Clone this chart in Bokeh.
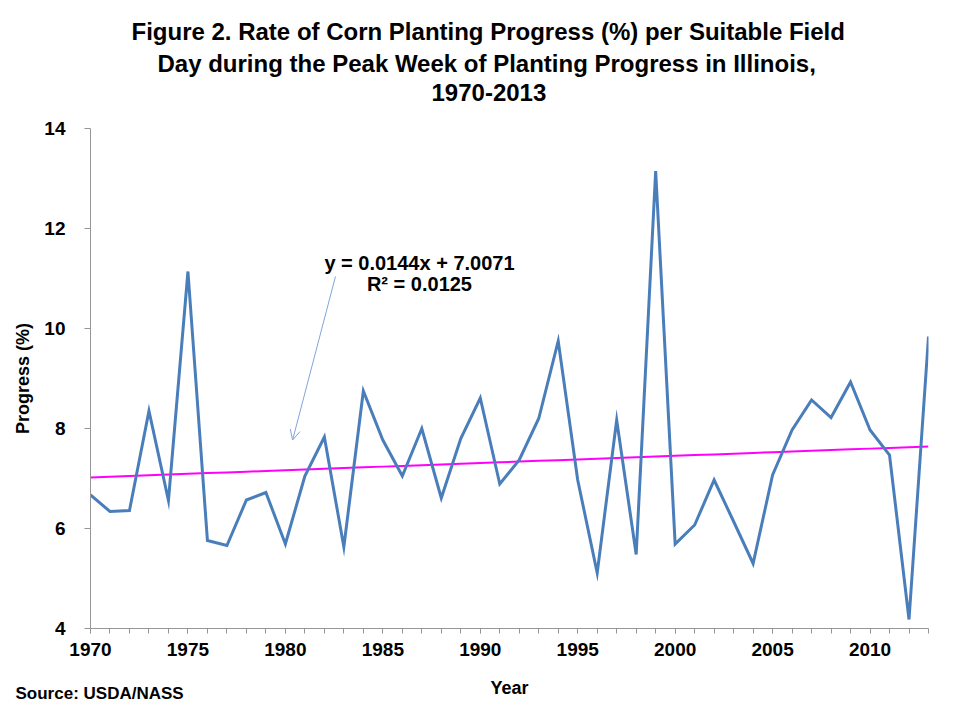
from bokeh.plotting import figure
from bokeh.models import (Range1d, FixedTicker, Label, Arrow, OpenHead, Title,
                          LinearAxis)
from bokeh.embed import file_html
from bokeh.resources import INLINE

# ---- data ----
years = list(range(1970, 2014))
progress = [6.67, 6.34, 6.36, 8.35, 6.56, 11.14, 5.76, 5.66, 6.57, 6.72,
            5.69, 7.05, 7.83, 5.63, 8.75, 7.77, 7.05, 8.00, 6.61, 7.80,
            8.61, 6.89, 7.37, 8.20, 9.75, 6.97, 5.11, 8.17, 5.48, 13.15,
            5.69, 6.07, 6.97, 6.14, 5.30, 7.07, 7.97, 8.57, 8.22, 8.93,
            7.97, 7.47, 4.18, 9.84]
trend_slope = 0.0144
trend_intercept = 7.0071
trend = [trend_intercept + trend_slope * (i + 1) for i in range(len(years))]

x_tick_values = [1970, 1975, 1980, 1985, 1990, 1995, 2000, 2005, 2010]
y_tick_values = [4, 6, 8, 10, 12, 14]

title_lines = ["Figure 2. Rate of Corn Planting Progress (%)  per Suitable Field",
               "Day during the Peak Week of Planting Progress in Illinois,",
               "1970-2013"]
eq_lines = ["y = 0.0144x + 7.0071", "R\u00b2 = 0.0125"]
x_label = "Year"
y_label = "Progress (%)"
source_text = "Source: USDA/NASS"

FONT = "Liberation Sans"

p = figure(width=950, height=700,
           x_range=Range1d(1970, 2013), y_range=Range1d(4, 14),
           output_backend="svg", toolbar_location=None,
           min_border_left=90, min_border_right=22,
           min_border_top=128, min_border_bottom=71)
p.outline_line_color = None
p.xgrid.visible = False
p.ygrid.visible = False
p.background_fill_color = "white"
p.border_fill_color = "white"

p.line(years, trend, line_color="#FF00FF", line_width=2)
p.line(years, progress, line_color="#4A7EBB", line_width=3, line_join="miter")

axis_gray = "#969696"
# x axis
xa = p.xaxis[0]
xa.ticker = FixedTicker(ticks=x_tick_values, minor_ticks=years)
xa.axis_line_color = axis_gray
xa.major_tick_line_color = axis_gray
xa.minor_tick_line_color = axis_gray
xa.major_tick_in = 0
xa.major_tick_out = 5
xa.minor_tick_in = 0
xa.minor_tick_out = 5
xa.major_label_standoff = 9
xa.major_label_text_font = FONT
xa.major_label_text_font_style = "bold"
xa.major_label_text_font_size = "19px"
xa.major_label_text_color = "black"
xa.axis_label = x_label
xa.axis_label_text_font = FONT
xa.axis_label_text_font_style = "bold"
xa.axis_label_text_font_size = "18px"
xa.axis_label_text_color = "black"
xa.axis_label_standoff = 19

# y axis
ya = p.yaxis[0]
ya.ticker = FixedTicker(ticks=y_tick_values, minor_ticks=[])
ya.axis_line_color = axis_gray
ya.major_tick_line_color = axis_gray
ya.minor_tick_line_color = None
ya.major_tick_in = 0
ya.major_tick_out = 6
ya.major_label_standoff = 19
ya.major_label_text_font = FONT
ya.major_label_text_font_style = "bold"
ya.major_label_text_font_size = "19px"
ya.major_label_text_color = "black"
ya.axis_label = y_label
ya.axis_label_text_font = FONT
ya.axis_label_text_font_style = "bold"
ya.axis_label_text_font_size = "18px"
ya.axis_label_text_color = "black"
ya.axis_label_standoff = 8

# invisible spacer between frame and title block
spacer = LinearAxis(ticker=FixedTicker(ticks=[1972], minor_ticks=[]),
                    axis_line_color=None,
                    major_tick_line_color="white", minor_tick_line_color=None,
                    major_tick_in=0, major_tick_out=24, minor_tick_in=0,
                    minor_tick_out=0, major_label_standoff=0,
                    major_label_overrides={1972: ""})
p.add_layout(spacer, "above")

# title lines: added nearest-first, left aligned with offsets to centre at x~487
for txt, off, so in zip(reversed(title_lines), [341, 67, 41], [7, 4, 2]):
    p.add_layout(Title(text=txt, align="left", offset=off,
                       standoff=so, text_font=FONT, text_font_style="bold",
                       text_font_size="24px", text_color="black"), "above")

# trendline equation
for txt, yy in zip(eq_lines, [11.304, 10.893]):
    p.add_layout(Label(x=1986.88, y=yy, text=txt, text_align="center",
                       text_baseline="alphabetic", text_font=FONT,
                       text_font_style="bold", text_font_size="20px",
                       text_color="black"))

# arrow
p.add_layout(Arrow(x_start=1982.57, y_start=11.04, x_end=1980.37, y_end=7.77,
                   line_color="#7FA6DC", line_width=1,
                   end=OpenHead(size=10, line_color="#7FA6DC", line_width=1)))

# source note, bottom-left, on the same row as the x-axis title
p.add_layout(Title(text=source_text, align="left", offset=-75,
                   vertical_align="top", standoff=-34,
                   text_font=FONT, text_font_style="bold",
                   text_font_size="17px", text_color="black"), "below")

open("out.html", "w").write(file_html(p, INLINE))
